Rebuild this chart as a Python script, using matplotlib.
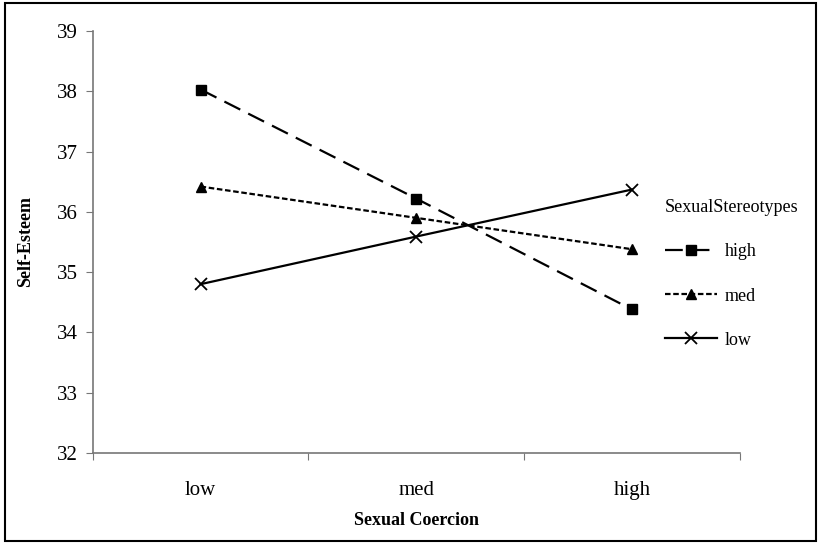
import matplotlib.pyplot as plt
import matplotlib.patches as patches

coercion = ["low", "med", "high"]
high_vals = [38.03, 36.22, 34.38]
med_vals = [36.42, 35.90, 35.38]
low_vals = [34.80, 35.59, 36.37]

plt.rcParams['font.family'] = ['Liberation Serif', 'DejaVu Serif']

fig = plt.figure(figsize=(8.21, 5.45), dpi=100)
ax = fig.add_axes([0.113, 0.169, 0.788, 0.774])

x = [i + 0.5 for i in range(len(coercion))]
ax.plot(x, high_vals, c="black", linewidth=1.6, dashes=(8, 4),
        marker='s', markersize=7, label="high")
ax.plot(x, med_vals, c="black", linewidth=1.6, dashes=(2.5, 1.2),
        marker='^', markersize=7, label="med")
ax.plot(x, low_vals, c="black", linewidth=1.6,
        marker='x', markersize=8, markeredgewidth=1.3, label="low")

ax.set_xlim(0, 3)
ax.set_ylim(32, 39)
ax.set_xticks([0, 1, 2, 3])
ax.set_xticklabels([])
ax.set_xticks(x, minor=True)
ax.set_xticklabels(coercion, minor=True, fontsize=15)
ax.tick_params(axis='x', which='minor', length=0, pad=20)
ax.tick_params(axis='x', which='major', length=5, color='#777777')
ax.tick_params(axis='y', labelsize=15, length=5, color='#777777', pad=6)
ax.set_yticks(range(32, 40))

for side in ["top", "right"]:
    ax.spines[side].set_visible(False)
for side in ["left", "bottom"]:
    ax.spines[side].set_color('#777777')
    ax.spines[side].set_linewidth(1.2)

ax.set_xlabel("Sexual Coercion", fontsize=13, fontweight='bold', labelpad=9)
ax.set_ylabel("Self-Esteem", fontsize=13, fontweight='bold', labelpad=16)

leg = ax.legend(title="SexualStereotypes", loc='upper left',
                bbox_to_anchor=(0.79, 0.664), bbox_transform=fig.transFigure,
                frameon=False, fontsize=13, title_fontsize=13,
                handlelength=2.9, labelspacing=1.5, handletextpad=0.4)
leg._legend_box.align = "left"

fig.patches.append(patches.Rectangle((0.006, 0.008), 0.988, 0.986,
                                     transform=fig.transFigure, fill=False,
                                     edgecolor='black', linewidth=1.5))

fig.savefig("out.png", dpi=100)
